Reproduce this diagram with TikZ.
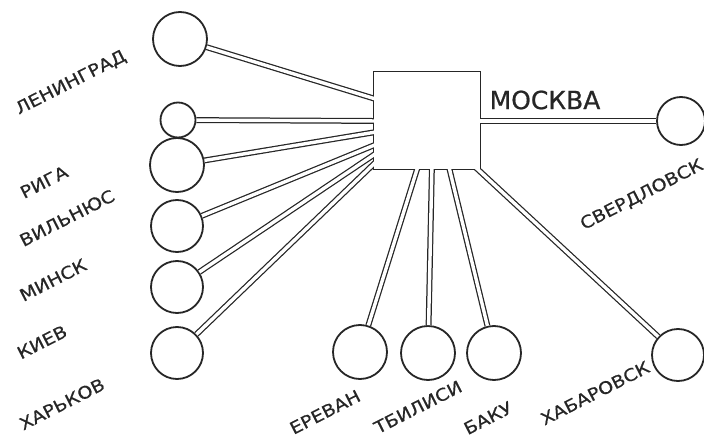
\documentclass[tikz,border=0pt]{standalone}
\usepackage{fontspec}
\setmainfont{DejaVu Sans}
\newfontfamily\lblfont[FakeStretch=1.13,FakeBold=0.6]{DejaVu Sans}
\newfontfamily\hubfont[FakeBold=0.8]{DejaVu Sans}
\definecolor{ink}{HTML}{262626}
\tikzset{
  city/.style={circle, draw=ink, line width=1.8pt, fill=white, inner sep=0pt, minimum size=#1},
  pipe/.style={draw=ink, line width=1.25pt, double=white, double distance=3.4pt},
  lbl/.style={text=ink, font=\lblfont\fontsize{17}{19}\selectfont, rotate=27, inner sep=0pt},
  hub/.style={draw=ink, line width=1.8pt, fill=white, minimum width=106pt, minimum height=97pt, inner sep=0pt},
}
\begin{document}
\begin{tikzpicture}[x=1pt,y=-1pt]
\useasboundingbox (0,0) rectangle (704,441);
% hub (Moscow)
\node[hub] (msk) at (427,120.5) {};
% cities
\node[city=54pt] (len) at (180,39) {};
\node[city=35pt] (rig) at (178,120) {};
\node[city=54pt] (vil) at (177,165) {};
\node[city=52pt] (min) at (177,226) {};
\node[city=52pt] (kie) at (177,287) {};
\node[city=52pt] (kha) at (177,353) {};
\node[city=48pt] (sve) at (681,121) {};
\node[city=54pt] (ere) at (360,352) {};
\node[city=54pt] (tbi) at (428,353) {};
\node[city=54pt] (bak) at (494,353) {};
\node[city=52pt] (khb) at (678,355) {};
% entry points inside the hub
\coordinate (eLen) at (382,101);
\coordinate (eRig) at (382,121);
\coordinate (eVil) at (382,131);
\coordinate (eMin) at (382,142);
\coordinate (eKie) at (381,150);
\coordinate (eKha) at (380,158);
\coordinate (eSve) at (472,121);
\coordinate (eEre) at (419,163);
\coordinate (eTbi) at (432,163);
\coordinate (eBak) at (448,163);
\coordinate (eKhb) at (472,164);
% pipes
\draw[pipe] (len) -- (eLen);
\draw[pipe] (rig) -- (eRig);
\draw[pipe] (vil) -- (eVil);
\draw[pipe] (min) -- (eMin);
\draw[pipe] (kie) -- (eKie);
\draw[pipe] (kha) -- (eKha);
\draw[pipe] (sve) -- (eSve);
\draw[pipe] (ere) -- (eEre);
\draw[pipe] (tbi) -- (eTbi);
\draw[pipe] (bak) -- (eBak);
\draw[pipe] (khb) -- (eKhb);
% clean hub interior
\fill[white] ([xshift=0.9pt,yshift=-0.9pt]msk.north west) rectangle ([xshift=-0.9pt,yshift=0.9pt]msk.south east);
% labels
\node[text=ink, font=\hubfont\fontsize{25}{28}\selectfont, inner sep=0pt] (tMsk) at (545,100) {МОСКВА};
\node[lbl] (tLen) at (71,83) {ЛЕНИНГРАД};
\node[lbl] (tRig) at (44,182) {РИГА};
\node[lbl] (tVil) at (67,218) {ВИЛЬНЮС};
\node[lbl] (tMin) at (53,280) {МИНСК};
\node[lbl] (tKie) at (42,342) {КИЕВ};
\node[lbl] (tKha) at (62,404) {ХАРЬКОВ};
\node[lbl] (tEre) at (325,412) {ЕРЕВАН};
\node[lbl] (tTbi) at (418,407) {ТБИЛИСИ};
\node[lbl] (tBak) at (488,418) {БАКУ};
\node[lbl] (tKhb) at (595,393) {ХАБАРОВСК};
\node[lbl] (tSve) at (642,195) {СВЕРДЛОВСК};
\end{tikzpicture}
\end{document}
